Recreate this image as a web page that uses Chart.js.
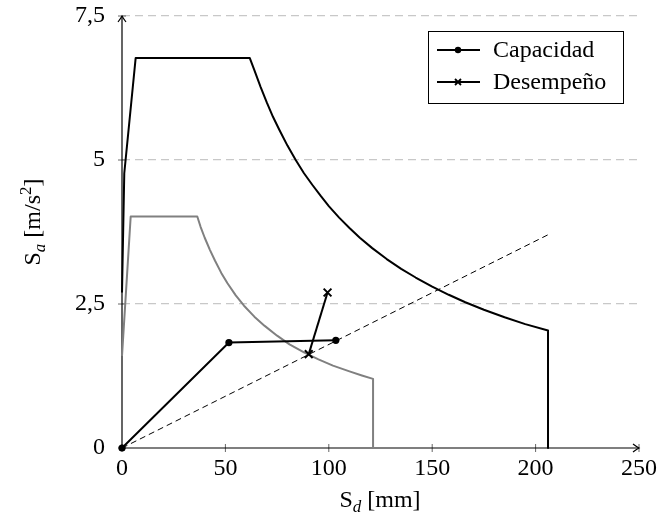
<!DOCTYPE html>
<html>
<head>
<meta charset="utf-8">
<script src="https://cdn.jsdelivr.net/npm/chart.js@4.4.1/dist/chart.umd.min.js"></script>
<style>
  html, body { margin: 0; padding: 0; background: #fff; }
  canvas { display: block; }
</style>
</head>
<body>
<canvas id="chart" width="660" height="526"></canvas>
<script>
const FONT = "'Liberation Serif', 'Times New Roman', serif";

// espectro de demanda mayor (negro)
const demandaSd = [0, 1.1, 6.6, 61.8, 64, 67, 70, 73, 76, 80, 84, 88, 92, 96, 100, 105, 110, 115, 121, 128, 135, 142, 150, 158, 166, 175, 185, 195, 206, 206];
const demandaSa = [2.7, 4.77, 6.77, 6.77, 6.56, 6.27, 6.0, 5.75, 5.53, 5.25, 5.0, 4.77, 4.57, 4.38, 4.2, 4.0, 3.82, 3.65, 3.47, 3.28, 3.11, 2.96, 2.8, 2.66, 2.53, 2.4, 2.27, 2.15, 2.04, 0];

// espectro reducido (gris)
const reducidoSd = [0, 4.2, 36.4, 38, 40, 42.5, 45, 48, 51, 55, 59, 64, 69, 75, 81, 88, 95, 102, 110, 116, 121.4, 121.4];
const reducidoSa = [1.6, 4.02, 4.02, 3.84, 3.65, 3.44, 3.25, 3.04, 2.86, 2.65, 2.47, 2.28, 2.12, 1.95, 1.8, 1.66, 1.54, 1.43, 1.33, 1.26, 1.2, 0];

// recta de periodo (discontinua)
const rectaSd = [0, 207];
const rectaSa = [0, 3.72];

const capacidadSd = [0, 51.7, 103.4];
const capacidadSa = [0, 1.83, 1.87];

const desempenoSd = [99.4, 90.3];
const desempenoSa = [2.7, 1.63];

const xTicks = [0, 50, 100, 150, 200, 250];
const yTicks = [0, 2.5, 5, 7.5];

const toPoints = (xs, ys) => xs.map((x, i) => ({ x: x, y: ys[i] }));

const drawRuns = (ctx, runs, x, y) => {
  let total = 0;
  runs.forEach((r) => {
    ctx.font = `${r.italic ? "italic " : ""}${r.size}px ${FONT}`;
    r.w = ctx.measureText(r.t).width;
    total += r.w;
  });
  let cx = x - total / 2;
  runs.forEach((r) => {
    ctx.font = `${r.italic ? "italic " : ""}${r.size}px ${FONT}`;
    ctx.fillText(r.t, cx, y + (r.dy || 0));
    cx += r.w;
  });
};

const drawArrow = (ctx, x, y, angle) => {
  ctx.save();
  ctx.translate(x, y);
  ctx.rotate(angle);
  ctx.beginPath();
  ctx.moveTo(-6, -4);
  ctx.quadraticCurveTo(-2, -1, 0, 0);
  ctx.quadraticCurveTo(-2, 1, -6, 4);
  ctx.stroke();
  ctx.restore();
};

const ejesPlugin = {
  id: "ejes",
  beforeDatasetsDraw(chart) {
    const { ctx, scales } = chart;
    const x0 = scales.x.getPixelForValue(0);
    const y0 = scales.y.getPixelForValue(0);
    const xEnd = scales.x.getPixelForValue(scales.x.max);
    const yEnd = scales.y.getPixelForValue(scales.y.max);
    ctx.save();
    ctx.strokeStyle = "#666";
    ctx.lineWidth = 1;
    xTicks.forEach((v) => {
      const px = scales.x.getPixelForValue(v);
      ctx.beginPath();
      ctx.moveTo(px, y0 - 4);
      ctx.lineTo(px, y0 + 4);
      ctx.stroke();
    });
    yTicks.forEach((v) => {
      const py = scales.y.getPixelForValue(v);
      ctx.beginPath();
      ctx.moveTo(x0 - 4, py);
      ctx.lineTo(x0 + 4, py);
      ctx.stroke();
    });
    ctx.strokeStyle = "#000";
    ctx.lineWidth = 1.2;
    ctx.beginPath();
    ctx.moveTo(x0, y0);
    ctx.lineTo(xEnd, y0);
    ctx.moveTo(x0, y0);
    ctx.lineTo(x0, yEnd);
    ctx.stroke();
    drawArrow(ctx, xEnd, y0, 0);
    drawArrow(ctx, x0, yEnd, -Math.PI / 2);
    ctx.restore();
  },
  afterDraw(chart) {
    const { ctx } = chart;
    ctx.save();
    ctx.fillStyle = "#000";
    ctx.textBaseline = "alphabetic";
    ctx.textAlign = "left";
    // titulo eje x
    drawRuns(ctx, [
      { t: "S", size: 24 },
      { t: "d", size: 17, italic: true, dy: 5 },
      { t: " [mm]", size: 24 },
    ], 380, 507);
    // titulo eje y
    ctx.translate(40, 222);
    ctx.rotate(-Math.PI / 2);
    drawRuns(ctx, [
      { t: "S", size: 24 },
      { t: "a", size: 17, italic: true, dy: 5 },
      { t: " [m/s", size: 24 },
      { t: "2", size: 17, dy: -9 },
      { t: "]", size: 24 },
    ], 0, 0);
    ctx.restore();
  },
};

const leyendaPlugin = {
  id: "leyenda",
  afterDraw(chart) {
    const { ctx } = chart;
    const entries = chart.data.datasets.filter((d) => d.label);
    ctx.save();
    ctx.fillStyle = "#fff";
    ctx.fillRect(428, 31, 195, 72);
    ctx.strokeStyle = "#000";
    ctx.lineWidth = 1;
    ctx.strokeRect(428.5, 31.5, 195, 72);
    entries.forEach((ds, i) => {
      const y = 50 + i * 32;
      ctx.strokeStyle = "#000";
      ctx.lineWidth = 2;
      ctx.beginPath();
      ctx.moveTo(437, y);
      ctx.lineTo(480, y);
      ctx.stroke();
      if (ds.pointStyle === "circle") {
        ctx.fillStyle = "#000";
        ctx.beginPath();
        ctx.arc(458, y, 3.2, 0, Math.PI * 2);
        ctx.fill();
      } else {
        ctx.lineWidth = 1.8;
        ctx.beginPath();
        ctx.moveTo(455, y - 3);
        ctx.lineTo(461, y + 3);
        ctx.moveTo(455, y + 3);
        ctx.lineTo(461, y - 3);
        ctx.stroke();
      }
      ctx.fillStyle = "#000";
      ctx.font = `24px ${FONT}`;
      ctx.textBaseline = "alphabetic";
      ctx.textAlign = "left";
      ctx.fillText(ds.label, 493, y + 7);
    });
    ctx.restore();
  },
};

const fmt = (v) => String(v).replace(".", ",");

new Chart(document.getElementById("chart"), {
  type: "scatter",
  data: {
    datasets: [
      {
        label: "Capacidad",
        data: toPoints(capacidadSd, capacidadSa),
        showLine: true,
        borderColor: "#000",
        borderWidth: 2,
        pointStyle: "circle",
        pointRadius: 3.6,
        pointBackgroundColor: "#000",
        pointBorderColor: "#000",
        pointBorderWidth: 0,
        clip: false,
      },
      {
        label: "Desempeño",
        data: toPoints(desempenoSd, desempenoSa),
        showLine: true,
        borderColor: "#000",
        borderWidth: 2,
        pointStyle: "crossRot",
        pointRadius: 5.5,
        pointBorderColor: "#000",
        pointBorderWidth: 2,
        clip: false,
      },
      {
        data: toPoints(rectaSd, rectaSa),
        showLine: true,
        borderColor: "#000",
        borderWidth: 1,
        borderDash: [6, 4],
        pointRadius: 0,
        clip: false,
      },
      {
        data: toPoints(demandaSd, demandaSa),
        showLine: true,
        borderColor: "#000",
        borderWidth: 2,
        borderJoinStyle: "round",
        pointRadius: 0,
        clip: false,
      },
      {
        data: toPoints(reducidoSd, reducidoSa),
        showLine: true,
        borderColor: "#808080",
        borderWidth: 2,
        borderJoinStyle: "round",
        pointRadius: 0,
        clip: false,
      },
    ],
  },
  options: {
    responsive: false,
    animation: false,
    events: [],
    layout: { padding: { left: 0, top: 16, right: 21, bottom: 0 } },
    plugins: {
      legend: { display: false },
      tooltip: { enabled: false },
    },
    scales: {
      x: {
        type: "linear",
        min: 0,
        max: 250,
        afterBuildTicks: (scale) => {
          scale.ticks = xTicks.map((v) => ({ value: v }));
        },
        afterFit: (scale) => {
          scale.height = 78;
          scale.paddingLeft = 0;
          scale.paddingRight = 0;
        },
        grid: { display: false, drawTicks: false },
        border: { display: false },
        ticks: {
          color: "#000",
          padding: 6,
          font: { family: FONT, size: 24 },
          callback: (v) => fmt(v),
        },
      },
      y: {
        type: "linear",
        min: 0,
        max: 7.5,
        afterBuildTicks: (scale) => {
          scale.ticks = yTicks.map((v) => ({ value: v }));
        },
        afterFit: (scale) => {
          scale.width = 122;
          scale.paddingTop = 0;
          scale.paddingBottom = 0;
        },
        grid: {
          drawTicks: false,
          lineWidth: 1.2,
          color: (c) => (c.tick && c.tick.value === 0 ? "rgba(0,0,0,0)" : "#c8c8c8"),
        },
        border: { display: false, dash: [8, 5] },
        ticks: {
          color: "#000",
          padding: 17,
          font: { family: FONT, size: 24 },
          callback: (v) => fmt(v),
        },
      },
    },
  },
  plugins: [ejesPlugin, leyendaPlugin],
});
</script>
</body>
</html>
